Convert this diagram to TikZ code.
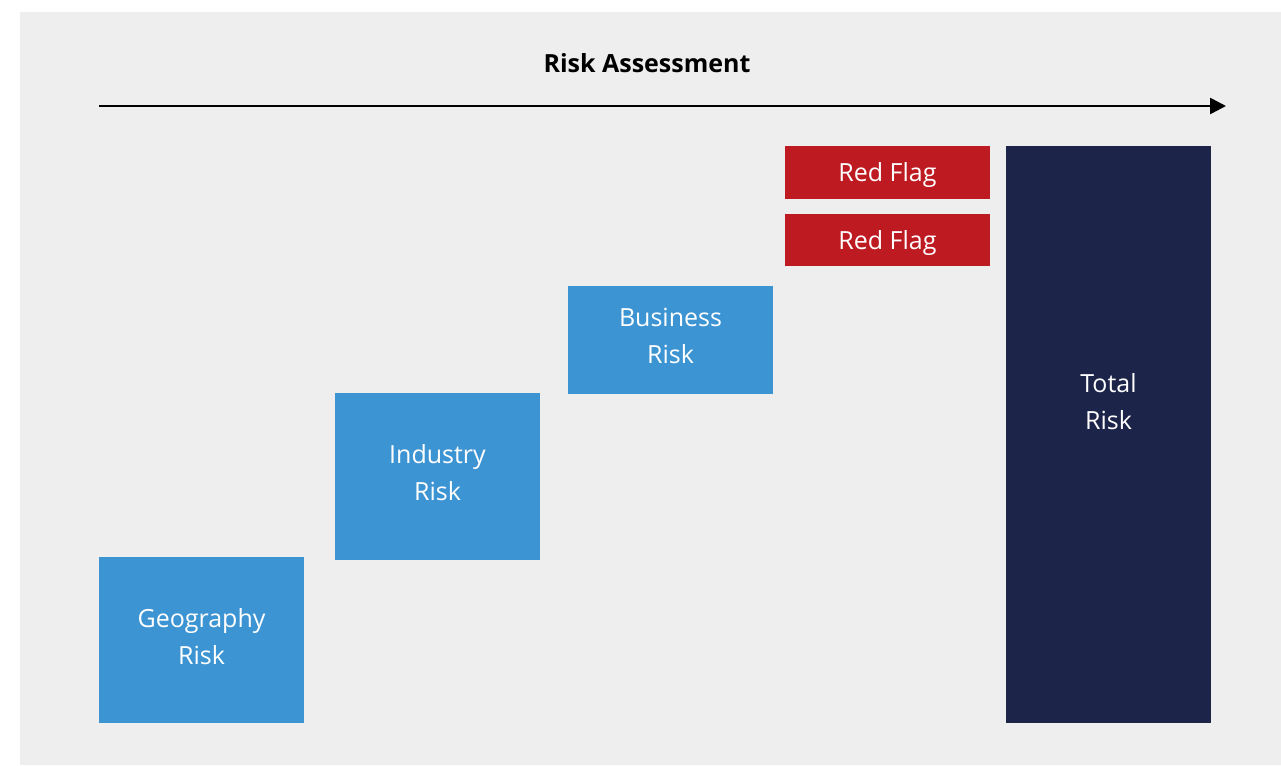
\documentclass[tikz,border=0pt]{standalone}
\usepackage{fontspec}
\setmainfont{Open Sans}
\usetikzlibrary{arrows.meta}
\definecolor{panel}{HTML}{EEEEEE}
\definecolor{stepblue}{HTML}{3D94D3}
\definecolor{flagred}{HTML}{BE1A21}
\definecolor{totalnavy}{HTML}{1C2449}
\tikzset{
  riskbox/.style={rectangle, inner sep=0pt, minimum width=205pt},
  bluebox/.style={riskbox, fill=stepblue},
  flagbox/.style={riskbox, fill=flagred},
  totalbox/.style={riskbox, fill=totalnavy},
  label text/.style={text=white, align=center, inner sep=0pt,
    font=\fontsize{25}{37}\selectfont},
}
\begin{document}
\begin{tikzpicture}[x=1pt, y=-1pt]
  \useasboundingbox (0,0) rectangle (1281,765);
  % panel
  \fill[panel] (20,12) rectangle (1281,765);

  % heading and timeline arrow
  \node[font=\fontsize{25}{30}\selectfont\bfseries] (title) at (647,63) {Risk Assessment};
  \coordinate (arrowstart) at (99,106);
  \coordinate (arrowend) at (1226,106);
  \draw[line width=2.6pt, -{Triangle[length=16pt,width=16pt]}] (arrowstart) -- (arrowend);

  % risk components
  \node[bluebox, minimum height=166pt] (geo) at (201.5,640) {};
  \node[bluebox, minimum height=167pt] (ind) at (437.5,476.5) {};
  \node[bluebox, minimum height=108pt] (bus) at (670.5,340) {};
  \node[flagbox, minimum height=53pt] (flagA) at (887.5,172.5) {};
  \node[flagbox, minimum height=52pt] (flagB) at (887.5,240) {};
  \node[totalbox, minimum height=577pt] (total) at (1108.5,434.5) {};

  % labels
  \node[label text] (geotext) at ([yshift=3pt]geo.center) {Geography\\Risk};
  \node[label text] (indtext) at ([yshift=4pt]ind.center) {Industry\\Risk};
  \node[label text] (bustext) at ([yshift=4pt]bus.center) {Business\\Risk};
  \node[label text] (flagAtext) at ([yshift=-3pt]flagA.center) {Red Flag};
  \node[label text] (flagBtext) at ([yshift=-3pt]flagB.center) {Red Flag};
  \node[label text] (totaltext) at ([yshift=33pt]total.center) {Total\\Risk};
\end{tikzpicture}
\end{document}
